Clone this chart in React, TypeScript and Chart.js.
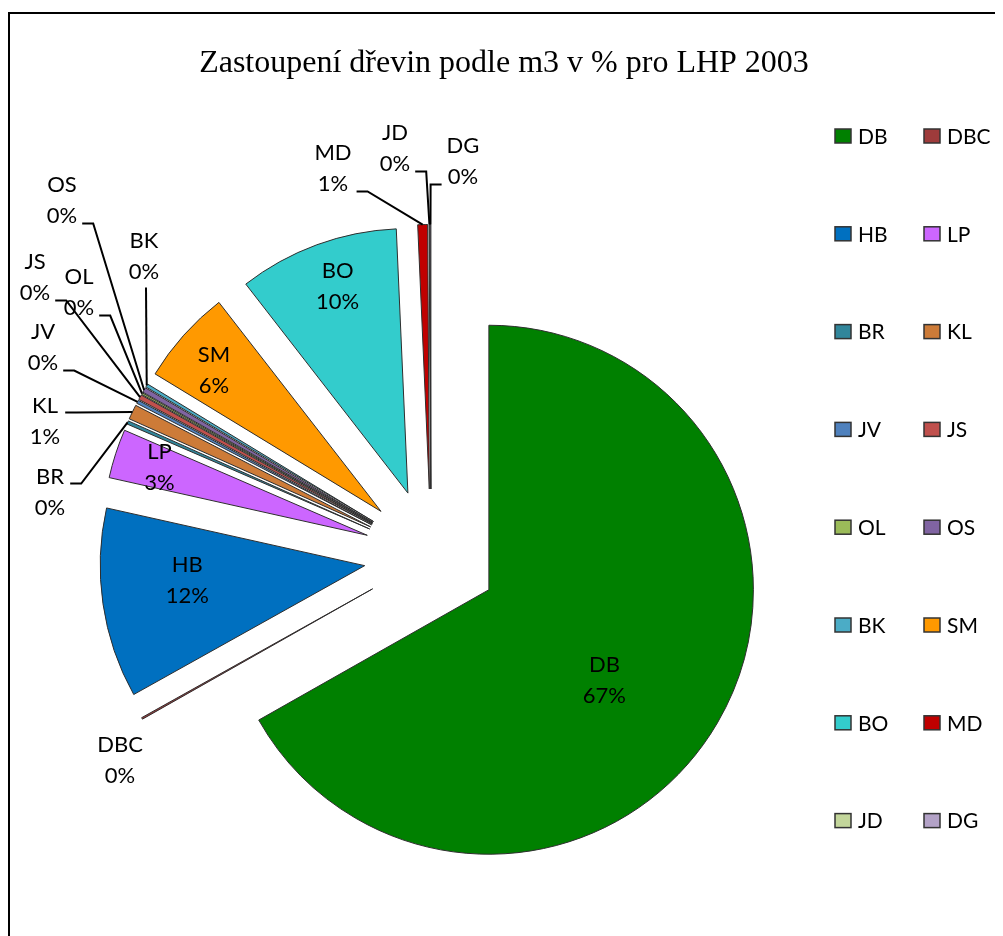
import React, { useEffect, useRef } from 'react';
import { Chart, registerables } from 'chart.js';

Chart.register(...registerables);

// ---------- data ----------
const TITLE = 'Zastoupení dřevin podle m3 v % pro LHP 2003';

const SPECIES = ['DB', 'DBC', 'HB', 'LP', 'BR', 'KL', 'JV', 'JS', 'OL', 'OS', 'BK', 'SM', 'BO', 'MD', 'JD', 'DG'];

// share of volume (m3) in %
const SHARES = [66.8, 0.1, 11.6, 3.0, 0.2, 0.9, 0.2, 0.3, 0.1, 0.3, 0.2, 5.8, 9.8, 0.6, 0.05, 0.05];

const COLORS = [
  '#008000', '#9E3B3B', '#0070C0', '#CC66FF', '#31869B', '#CD7B38', '#4F81BD', '#C0504D',
  '#9BBB59', '#8064A2', '#4BACC6', '#FF9900', '#33CCCC', '#C00000', '#C3D69B', '#B3A2C7',
];

// ---------- label layout (styling / placement only) ----------
// inside labels: r = fraction of radius from the exploded apex, da = angle shift in degrees
// outside labels: dx/dy = block centre relative to pie centre, leader = draw leader line
const LABEL_LAYOUT: any[] = [
  { inside: true, r: 0.556, da: 8 },            // DB
  { inside: false, dx: -311, dy: 204, leader: false }, // DBC
  { inside: true, r: 0.673, da: 3.5 },          // HB
  { inside: true, r: 0.826, da: 0 },            // LP
  { inside: false, dx: -381, dy: -64, leader: true },  // BR
  { inside: false, dx: -386, dy: -135, leader: true }, // KL
  { inside: false, dx: -388, dy: -209, leader: true }, // JV
  { inside: false, dx: -396, dy: -279, leader: true }, // JS
  { inside: false, dx: -352, dy: -264, leader: true }, // OL
  { inside: false, dx: -369, dy: -356, leader: true }, // OS
  { inside: false, dx: -287, dy: -300, leader: true }, // BK
  { inside: true, r: 0.826, da: -1.6 },         // SM
  { inside: true, r: 0.826, da: 1.4 },          // BO
  { inside: false, dx: -98, dy: -388, leader: true },  // MD
  { inside: false, dx: -36, dy: -408, leader: true },  // JD
  { inside: false, dx: 32, dy: -395, leader: true },   // DG
];

const EXPLODE = 67;
const LABEL_FONT = '22px Lato';
const LABEL_LINE = 31;

// ---------- plugins ----------
const explodePlugin = {
  id: 'explodeSlices',
  beforeDatasetDraw(chart: any, args: any) {
    const ctx = chart.ctx;
    const meta = args.meta;
    meta.data.forEach((arc: any) => {
      const mid = (arc.startAngle + arc.endAngle) / 2;
      ctx.save();
      ctx.translate(Math.cos(mid) * EXPLODE, Math.sin(mid) * EXPLODE);
      arc.draw(ctx);
      ctx.restore();
    });
    return false;
  },
};

const labelPlugin = {
  id: 'sliceLabels',
  afterDatasetsDraw(chart: any) {
    const ctx = chart.ctx;
    const meta = chart.getDatasetMeta(0);
    const values: number[] = chart.data.datasets[0].data;
    const total = values.reduce((a, b) => a + b, 0);
    ctx.save();
    ctx.font = LABEL_FONT;
    ctx.fillStyle = '#000';
    ctx.textAlign = 'center';
    ctx.textBaseline = 'middle';
    meta.data.forEach((arc: any, i: number) => {
      const mid = (arc.startAngle + arc.endAngle) / 2;
      const cx = arc.x;
      const cy = arc.y;
      const R = arc.outerRadius;
      const ax = cx + Math.cos(mid) * EXPLODE;
      const ay = cy + Math.sin(mid) * EXPLODE;
      const lines = [String(chart.data.labels[i]), Math.round((values[i] / total) * 100) + '%'];
      const L = LABEL_LAYOUT[i];
      let lx: number;
      let ly: number;
      if (L.inside) {
        const a = mid + (L.da * Math.PI) / 180;
        lx = ax + Math.cos(a) * R * L.r;
        ly = ay + Math.sin(a) * R * L.r;
      } else {
        lx = cx + L.dx;
        ly = cy + L.dy;
        if (L.leader) {
          const tx = cx + Math.cos(mid) * (EXPLODE + R);
          const ty = cy + Math.sin(mid) * (EXPLODE + R);
          const half = Math.max(ctx.measureText(lines[0]).width, ctx.measureText(lines[1]).width) / 2;
          const l1 = ly - LABEL_LINE / 2;
          const l2 = ly + LABEL_LINE / 2;
          ctx.beginPath();
          ctx.strokeStyle = '#000';
          ctx.lineWidth = 2;
          if (Math.abs(tx - lx) < half) {
            ctx.moveTo(lx + 2, l2 + 16);
            ctx.lineTo(tx, ty);
          } else {
            const side = tx > lx ? 1 : -1;
            const attX = lx + side * (half + 5);
            const attY = Math.min(Math.max(ty, l1 + 7), l2 + 8);
            ctx.moveTo(attX, attY);
            ctx.lineTo(attX + side * 11, attY);
            ctx.lineTo(tx, ty);
          }
          ctx.stroke();
        }
      }
      ctx.fillText(lines[0], lx, ly - LABEL_LINE / 2);
      ctx.fillText(lines[1], lx, ly + LABEL_LINE / 2);
    });
    ctx.restore();
  },
};

const titleLegendPlugin = {
  id: 'titleLegend',
  afterDraw(chart: any) {
    const ctx = chart.ctx;
    ctx.save();
    // title
    ctx.font = '32px "Liberation Serif"';
    ctx.fillStyle = '#000';
    ctx.textAlign = 'center';
    ctx.textBaseline = 'alphabetic';
    ctx.fillText(TITLE, 496, 64);

    // legend: two columns, row-major
    const labels: string[] = chart.data.labels;
    const colors: string[] = chart.data.datasets[0].backgroundColor;
    ctx.font = '21px Lato';
    ctx.textAlign = 'left';
    ctx.textBaseline = 'middle';
    labels.forEach((lab, i) => {
      const col = i % 2;
      const row = Math.floor(i / 2);
      const bx = 827 + col * 89;
      const by = 128 + row * 97.8;
      ctx.fillStyle = colors[i];
      ctx.fillRect(bx, by - 7, 16, 14);
      ctx.strokeStyle = '#333';
      ctx.lineWidth = 1.5;
      ctx.strokeRect(bx, by - 7, 16, 14);
      ctx.fillStyle = '#000';
      ctx.fillText(lab, bx + 23, by + 1);
    });
    ctx.restore();
  },
};

export default function App() {
  const canvasRef = useRef<HTMLCanvasElement | null>(null);

  useEffect(() => {
    if (!canvasRef.current) return;
    const chart = new Chart(canvasRef.current, {
      type: 'pie',
      data: {
        labels: SPECIES,
        datasets: [
          {
            data: SHARES,
            backgroundColor: COLORS,
            borderColor: '#2e2e2e',
            borderWidth: 1,
            hoverBorderWidth: 1,
            hoverOffset: 0,
            offset: 0,
            clip: false,
          } as any,
        ],
      },
      options: {
        responsive: false,
        animation: false,
        devicePixelRatio: 1,
        events: [],
        layout: { padding: { left: 158, right: 307, top: 283, bottom: 115 } },
        plugins: {
          legend: { display: false },
          title: { display: false },
          tooltip: { enabled: false },
        },
      },
      plugins: [explodePlugin, labelPlugin, titleLegendPlugin],
    });
    return () => chart.destroy();
  }, []);

  return (
    <div style={{ position: 'relative', width: 995, height: 928, overflow: 'hidden', background: '#fff' }}>
      <style>{'html,body{overflow:hidden;}'}</style>
      <canvas ref={canvasRef} width={995} height={928} style={{ position: 'absolute', left: 0, top: 0 }} />
      <div
        style={{
          position: 'absolute',
          left: 0,
          top: 4,
          width: 3000,
          height: 3000,
          borderTop: '2px solid #000',
          borderLeft: '2px solid #000',
          pointerEvents: 'none',
        }}
      />
    </div>
  );
}
